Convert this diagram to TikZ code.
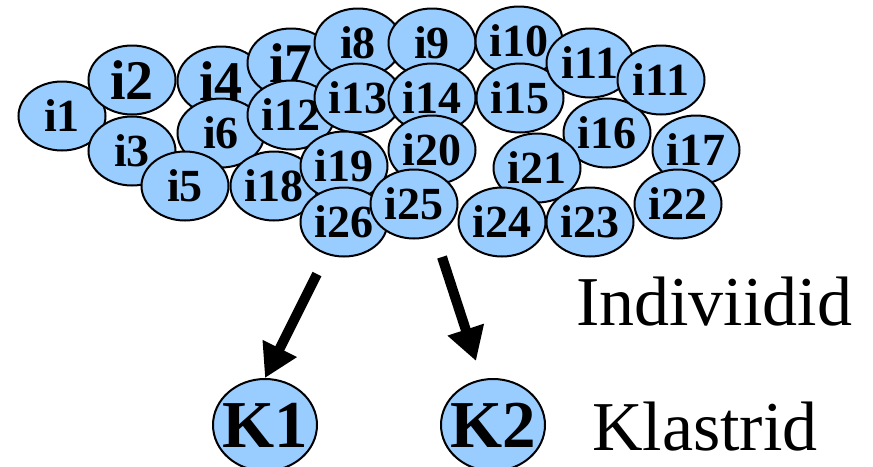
\documentclass[tikz,border=0pt]{standalone}
\usepackage{fontspec}
\setmainfont{Liberation Serif}
\usetikzlibrary{arrows.meta,shapes.geometric}
\definecolor{cellblue}{RGB}{153,204,255}
\tikzset{
  indiv/.style={ellipse, draw=black, line width=2pt, fill=cellblue,
    minimum width=87pt, minimum height=69pt, inner sep=0pt,
    font=\fontsize{46}{46}\selectfont\bfseries},
  bigindiv/.style={indiv, font=\fontsize{56}{56}\selectfont\bfseries},
  cluster/.style={ellipse, draw=black, line width=2pt, fill=cellblue,
    minimum width=104pt, minimum height=92pt, inner xsep=-10pt, inner ysep=0pt,
    font=\fontsize{67}{67}\selectfont\bfseries},
  caption/.style={anchor=base west, inner sep=0pt,
    font=\fontsize{70}{70}\selectfont},
  bigarrow/.style={line width=10pt, -{Triangle[length=33pt,width=36pt]}}
}
\begin{document}
\begin{tikzpicture}[x=1pt,y=-1pt]
\useasboundingbox (0,0) rectangle (873,466);

% individuals, drawn back to front
\node[indiv]    (i1)  at (62,116)  {i1};
\node[bigindiv] (i2)  at (132,80)  {i2};
\node[indiv]    (i3)  at (132,151) {i3};
\node[bigindiv] (i4)  at (221,81)  {i4};
\node[indiv]    (i6)  at (221,133) {i6};
\node[indiv]    (i5)  at (185,186) {i5};
\node[bigindiv] (i7)  at (291,63)  {i7};
\node[indiv]    (i12) at (291,115) {i12};
\node[indiv]    (i18) at (274,186) {i18};
\node[indiv]    (i8)  at (358,43)  {i8};
\node[indiv]    (i9)  at (432,43)  {i9};
\node[indiv]    (i13) at (358,98)  {i13};
\node[indiv]    (i14) at (432,98)  {i14};
\node[indiv]    (i19) at (344,166) {i19};
\node[indiv]    (i20) at (432,150) {i20};
\node[indiv]    (i26) at (344,222) {i26};
\node[indiv]    (i25) at (414,204) {i25};
\node[indiv]    (i10) at (519,41)  {i10};
\node[indiv]    (i15) at (520,98)  {i15};
\node[indiv]    (i11a) at (590,63) {i11};
\node[indiv]    (i16) at (607,133) {i16};
\node[indiv]    (i11b) at (661,80) {i11};
\node[indiv]    (i21) at (537,168) {i21};
\node[indiv]    (i24) at (502,222) {i24};
\node[indiv]    (i23) at (590,222) {i23};
\node[indiv]    (i17) at (696,150) {i17};
\node[indiv]    (i22) at (678,204) {i22};

% clusters
\node[cluster] (K1) at (265,425) {K1};
\node[cluster] (K2) at (493,425) {K2};

% captions
\node[caption] (indivlabel) at (576,325) {Indiviidid};
\node[caption] (klastlabel) at (592,450) {Klastrid};

% assignment arrows
\coordinate (a1) at (317,274);
\coordinate (a2) at (442,257);
\coordinate (b2) at (476,361);
\draw[bigarrow] (a1) -- (K1.north);
\draw[bigarrow] (a2) -- (b2);
\end{tikzpicture}
\end{document}
